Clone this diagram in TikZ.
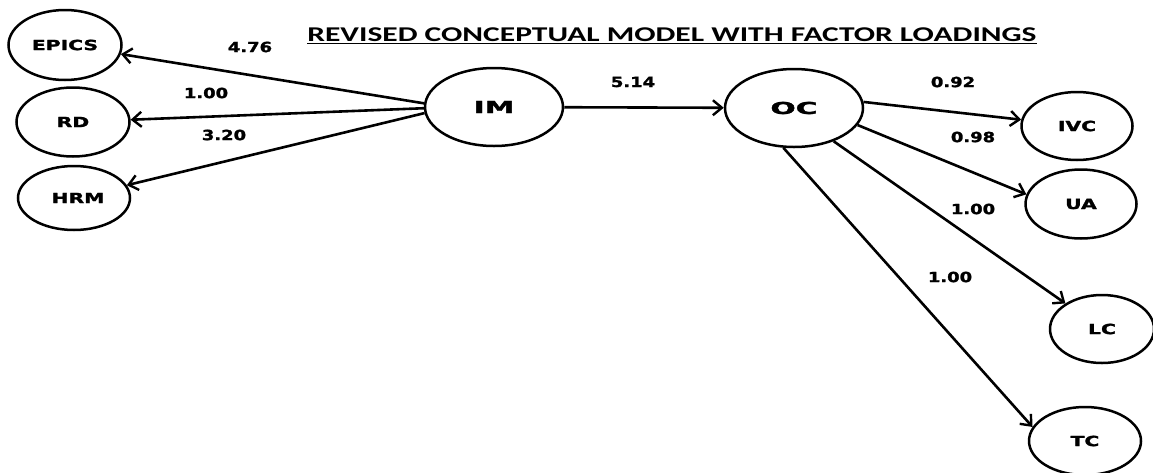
\documentclass[tikz,border=0pt]{standalone}
\usepackage{fontspec}
\usepackage{graphicx}
\setmainfont{DejaVu Sans}
\newfontfamily\heavyfont[FakeBold=1.5]{DejaVu Sans Bold}
\newfontfamily\titlefont{Carlito}
\usetikzlibrary{shapes.geometric,arrows.meta}
\tikzset{
  var/.style={draw, ellipse, line width=2.5pt, inner sep=0pt, font=\heavyfont\fontsize{14}{15}\selectfont},
  bigvar/.style={var, font=\heavyfont\fontsize{16.5}{17}\selectfont},
  arr/.style={line width=2.6pt, -{Straight Barb[length=9pt,width=15pt,line width=2.4pt]}},
  num/.style={inner sep=0pt, font=\heavyfont\fontsize{14}{15}\selectfont}
}
\newcommand{\sx}[1]{\scalebox{1.45}[1]{#1}}
\newcommand{\nx}[1]{\scalebox{1.28}[1]{#1}}
\newcommand{\bx}[1]{\scalebox{1.8}[1]{#1}}
\begin{document}
\begin{tikzpicture}[x=1pt,y=-1pt]
\useasboundingbox (0,0) rectangle (1153,472);
% title
\node[anchor=base, inner sep=0pt, font=\titlefont\bfseries\fontsize{21}{23}\selectfont] (title) at (672,41) {\scalebox{1.5}[1]{REVISED CONCEPTUAL MODEL WITH FACTOR LOADINGS}};
\draw[line width=1.8pt] ([yshift=-2.5pt]title.base west) -- ([yshift=-2.5pt]title.base east);
% nodes
\node[var, minimum width=113pt, minimum height=70pt] (EPICS) at (65,45) {\sx{EPICS}};
\node[var, minimum width=113pt, minimum height=69pt] (RD) at (73,122) {\sx{RD}\hspace{20pt}};
\node[var, minimum width=112pt, minimum height=64pt] (HRM) at (74,198) {\hspace{8pt}\sx{HRM}};
\node[bigvar, minimum width=138pt, minimum height=78pt] (IM) at (494,107) {\bx{IM}};
\node[bigvar, minimum width=138pt, minimum height=78pt] (OC) at (794,108) {\bx{OC}\hspace{26pt}};
\node[var, minimum width=111pt, minimum height=68pt] (IVC) at (1077,126) {\sx{IVC}\hspace{12pt}};
\node[var, minimum width=111pt, minimum height=69pt] (UA) at (1081,204) {\sx{UA}\hspace{6pt}};
\node[var, minimum width=104pt, minimum height=68pt] (LC) at (1102,329) {\sx{LC}};
\node[var, minimum width=112pt, minimum height=68pt] (TC) at (1085,441) {\sx{TC}\hspace{20pt}};
% connectors
\draw[arr] (IM.177) -- (EPICS);
\draw[arr] (IM.181) -- (RD);
\draw[arr] (IM.185) -- (HRM);
\draw[arr] (IM) -- (OC);
\draw[arr] (OC.5) -- (IVC);
\draw[arr] (OC.-15) -- (UA.170);
\draw[arr] (OC.-40) -- (LC);
\draw[arr] (OC.-105) -- (TC.165);
% loadings
\node[num] (l1) at (250,47) {\nx{4.76}};
\node[num] (l2) at (206,93) {\nx{1.00}};
\node[num] (l3) at (224,135) {\nx{3.20}};
\node[num] (l4) at (633,82) {\nx{5.14}};
\node[num] (l5) at (953,82) {\nx{0.92}};
\node[num] (l6) at (973,137) {\nx{0.98}};
\node[num] (l7) at (973,209) {\nx{1.00}};
\node[num] (l8) at (950,277) {\nx{1.00}};
\end{tikzpicture}
\end{document}
